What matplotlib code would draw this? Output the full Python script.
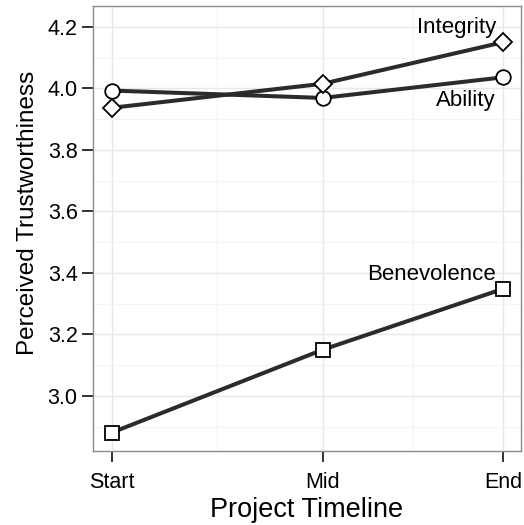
import numpy as np
import matplotlib
matplotlib.use("Agg")
import matplotlib.pyplot as plt

# timeline positions (Mid is not centred in the original)
stage_labels = ["Start", "Mid", "End"]
stage_pos = [0, 7, 13]

ability = [3.993, 3.969, 4.036]
integrity = [3.937, 4.015, 4.150]
benevolence = [2.881, 3.150, 3.348]

plt.rcParams['font.family'] = ['Liberation Sans', 'DejaVu Sans']

fig = plt.figure(figsize=(5.24, 5.25), dpi=100)
ax = fig.add_axes([0.1775, 0.141, 0.8168, 0.8476])

line_kw = dict(color='#2b2b2b', lw=2.9, markerfacecolor='white',
               markeredgecolor='black', markeredgewidth=1.3, zorder=3)
ax.plot(stage_pos, ability, marker='o', markersize=10.5, **line_kw)
ax.plot(stage_pos, integrity, marker='D', markersize=9, **line_kw)
ax.plot(stage_pos, benevolence, marker='s', markersize=10, **line_kw)

ax.text(12.77, 4.199, "Integrity", ha='right', va='center', fontsize=16)
ax.text(12.77, 3.962, "Ability", ha='right', va='center', fontsize=16)
ax.text(12.77, 3.395, "Benevolence", ha='right', va='center', fontsize=16)

ax.set_xlim(-0.63, 13.6)
ax.set_ylim(2.821, 4.268)
ax.set_xticks(stage_pos)
ax.set_xticklabels(stage_labels)
ax.set_yticks([3.0, 3.2, 3.4, 3.6, 3.8, 4.0, 4.2])
ax.set_xticks([3.5, 10], minor=True)
ax.set_yticks([2.9, 3.1, 3.3, 3.5, 3.7, 3.9, 4.1], minor=True)

ax.grid(True, which='major', color='#e8e8e8', lw=1.0)
ax.grid(True, which='minor', color='#f4f4f4', lw=0.8)
ax.set_axisbelow(True)
ax.tick_params(which='minor', length=0)
ax.tick_params(which='major', length=8, width=1.3, color='#222222',
               labelsize=15.5, labelcolor='black', pad=3)
ax.tick_params(axis='x', pad=7)

for s in ax.spines.values():
    s.set_color('#8c8c8c')
    s.set_linewidth(1.0)

ax.set_xlabel("Project Timeline", fontsize=19.5, labelpad=3)
ax.set_ylabel("Perceived Trustworthiness", fontsize=17.5)
ax.yaxis.set_label_coords(-0.126, 0.535)

fig.savefig("out.png", dpi=100)
